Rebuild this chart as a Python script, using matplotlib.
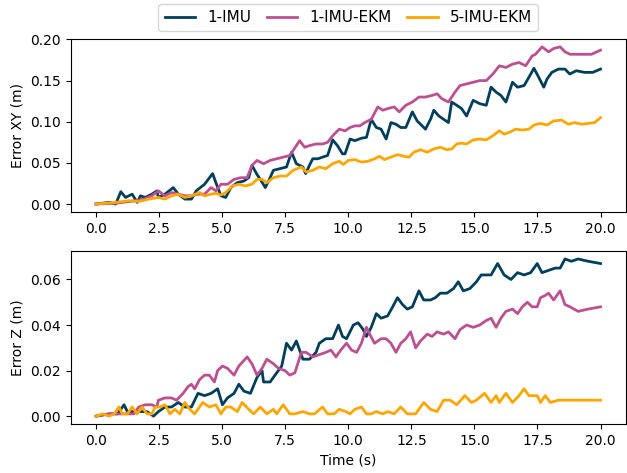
import matplotlib
matplotlib.use("Agg")
import matplotlib.pyplot as plt
import numpy as np

# colours
c_imu = "#003f5c"
c_ekm = "#bc5090"
c_5ekm = "#ffa600"

# --- top panel: horizontal error (m) ---
t_xy_imu = [0, 0.52, 0.78, 0.98, 1.17, 1.43, 1.63, 1.76, 1.95, 2.21, 2.41, 2.47, 2.73, 3.06, 3.26,
            3.52, 3.78, 3.97, 4.30, 4.62, 4.75, 4.95, 5.14, 5.34, 5.60, 5.86, 6.05, 6.18, 6.38,
            6.51, 6.71, 6.90, 7.03, 7.29, 7.55, 7.75, 7.94, 8.20, 8.31, 8.46, 8.59, 8.79, 8.98,
            9.18, 9.38, 9.57, 9.77, 9.87, 10.07, 10.26, 10.52, 10.72, 10.91, 11.11, 11.30, 11.50,
            11.69, 11.89, 12.08, 12.28, 12.54, 12.73, 12.93, 13.06, 13.26, 13.39, 13.59, 13.78,
            13.97, 14.10, 14.30, 14.49, 14.69, 14.95, 15.21, 15.47, 15.66, 15.86, 16.05, 16.25,
            16.51, 16.71, 16.97, 17.16, 17.36, 17.55, 17.75, 17.88, 18.07, 18.33, 18.59, 18.78,
            19.04, 19.36, 19.69, 20.0]
xy_imu = [0, 0.002, 0.000, 0.015, 0.008, 0.012, 0.002, 0.010, 0.008, 0.012, 0.016, 0.008, 0.012,
          0.020, 0.012, 0.006, 0.006, 0.016, 0.024, 0.037, 0.026, 0.010, 0.008, 0.020, 0.026,
          0.028, 0.032, 0.047, 0.036, 0.030, 0.020, 0.032, 0.041, 0.043, 0.045, 0.063, 0.049,
          0.045, 0.037, 0.047, 0.055, 0.055, 0.057, 0.059, 0.078, 0.071, 0.061, 0.061, 0.079,
          0.077, 0.080, 0.081, 0.103, 0.093, 0.091, 0.079, 0.099, 0.097, 0.093, 0.093, 0.112,
          0.101, 0.095, 0.091, 0.103, 0.114, 0.107, 0.103, 0.099, 0.124, 0.120, 0.116, 0.107,
          0.126, 0.122, 0.120, 0.142, 0.136, 0.132, 0.124, 0.148, 0.142, 0.144, 0.154, 0.165,
          0.154, 0.142, 0.152, 0.160, 0.164, 0.164, 0.158, 0.162, 0.160, 0.160, 0.164]

t_xy_ekm = [0, 0.78, 1.56, 1.89, 2.21, 2.47, 2.73, 2.99, 3.26, 3.52, 3.78, 4.04, 4.30, 4.56, 4.75,
            4.95, 5.21, 5.47, 5.73, 5.99, 6.18, 6.38, 6.64, 6.90, 7.16, 7.42, 7.68, 8.07, 8.27,
            8.46, 8.72, 8.98, 9.18, 9.38, 9.64, 9.87, 10.07, 10.26, 10.46, 10.65, 10.91, 11.17,
            11.37, 11.56, 11.82, 12.02, 12.28, 12.54, 12.80, 13.06, 13.32, 13.52, 13.71, 13.97,
            14.23, 14.43, 14.69, 14.95, 15.21, 15.47, 15.73, 15.99, 16.25, 16.51, 16.77, 17.03,
            17.29, 17.42, 17.68, 17.94, 18.14, 18.40, 18.59, 18.79, 19.05, 19.38, 19.64, 20.0]
xy_ekm = [0, 0.001, 0.004, 0.006, 0.010, 0.016, 0.010, 0.014, 0.012, 0.010, 0.010, 0.012, 0.012,
          0.020, 0.016, 0.024, 0.024, 0.030, 0.032, 0.032, 0.047, 0.053, 0.049, 0.053, 0.055,
          0.057, 0.059, 0.077, 0.069, 0.071, 0.073, 0.073, 0.075, 0.083, 0.091, 0.089, 0.093,
          0.095, 0.095, 0.099, 0.103, 0.118, 0.114, 0.116, 0.118, 0.112, 0.120, 0.124, 0.130,
          0.130, 0.132, 0.134, 0.128, 0.124, 0.136, 0.144, 0.146, 0.148, 0.150, 0.150, 0.158,
          0.168, 0.166, 0.170, 0.172, 0.168, 0.180, 0.182, 0.191, 0.185, 0.189, 0.191, 0.185,
          0.182, 0.182, 0.182, 0.182, 0.187]

t_xy_5ekm = [0, 0.78, 1.30, 1.69, 2.08, 2.47, 2.73, 2.99, 3.26, 3.52, 3.78, 4.10, 4.30, 4.56,
             4.75, 4.95, 5.14, 5.40, 5.66, 5.92, 6.18, 6.38, 6.58, 6.77, 7.03, 7.29, 7.55, 7.81,
             8.14, 8.33, 8.59, 8.85, 9.11, 9.38, 9.64, 9.80, 10.0, 10.26, 10.52, 10.78, 11.04,
             11.24, 11.43, 11.69, 11.95, 12.21, 12.41, 12.60, 12.86, 13.13, 13.39, 13.65, 13.91,
             14.10, 14.30, 14.49, 14.69, 14.95, 15.21, 15.47, 15.73, 15.99, 16.18, 16.38, 16.64,
             16.90, 17.16, 17.36, 17.62, 17.88, 18.14, 18.46, 18.72, 18.98, 19.24, 19.51, 19.77,
             20.0]
xy_5ekm = [0, 0.002, 0.004, 0.003, 0.006, 0.008, 0.006, 0.010, 0.012, 0.008, 0.010, 0.014, 0.010,
           0.012, 0.013, 0.011, 0.014, 0.022, 0.024, 0.022, 0.024, 0.030, 0.030, 0.026, 0.032,
           0.034, 0.034, 0.041, 0.045, 0.039, 0.041, 0.045, 0.043, 0.049, 0.052, 0.048, 0.053,
           0.054, 0.051, 0.052, 0.055, 0.058, 0.054, 0.057, 0.060, 0.058, 0.057, 0.063, 0.066,
           0.063, 0.067, 0.069, 0.066, 0.067, 0.073, 0.074, 0.073, 0.078, 0.079, 0.078, 0.083,
           0.089, 0.085, 0.087, 0.091, 0.090, 0.091, 0.096, 0.098, 0.096, 0.101, 0.102, 0.097,
           0.099, 0.097, 0.098, 0.099, 0.105]

# --- bottom panel: vertical error (m) ---
t_z_imu = [0, 0.52, 0.85, 1.11, 1.24, 1.50, 1.76, 2.02, 2.28, 2.47, 2.73, 2.99, 3.26, 3.52, 3.78,
           4.04, 4.30, 4.56, 4.82, 5.01, 5.21, 5.47, 5.66, 5.86, 6.12, 6.38, 6.58, 6.64, 6.90,
           7.16, 7.36, 7.55, 7.75, 7.94, 8.20, 8.46, 8.72, 8.85, 9.11, 9.38, 9.61, 9.77, 9.93,
           10.20, 10.39, 10.59, 10.72, 10.91, 11.11, 11.30, 11.56, 11.76, 11.95, 12.15, 12.34,
           12.54, 12.80, 12.99, 13.26, 13.45, 13.65, 13.91, 14.17, 14.36, 14.56, 14.82, 15.08,
           15.27, 15.47, 15.66, 15.92, 16.18, 16.45, 16.71, 16.97, 17.23, 17.49, 17.68, 17.94,
           18.20, 18.40, 18.59, 18.85, 19.11, 19.51, 20.0]
z_imu = [0, 0.001, 0.001, 0.005, 0.002, 0.002, 0.002, 0.002, 0.000, 0.002, 0.004, 0.004, 0.006,
         0.004, 0.004, 0.010, 0.009, 0.010, 0.012, 0.005, 0.008, 0.010, 0.014, 0.011, 0.010,
         0.017, 0.020, 0.015, 0.015, 0.019, 0.022, 0.032, 0.029, 0.033, 0.025, 0.025, 0.028,
         0.032, 0.034, 0.034, 0.040, 0.035, 0.034, 0.040, 0.041, 0.038, 0.035, 0.039, 0.045,
         0.043, 0.044, 0.048, 0.052, 0.049, 0.047, 0.048, 0.055, 0.051, 0.051, 0.052, 0.054,
         0.054, 0.056, 0.059, 0.055, 0.056, 0.059, 0.062, 0.062, 0.062, 0.067, 0.062, 0.060,
         0.063, 0.062, 0.063, 0.067, 0.063, 0.064, 0.065, 0.065, 0.069, 0.068, 0.069, 0.068,
         0.067]

t_z_ekm = [0, 0.52, 0.91, 1.17, 1.50, 1.69, 1.95, 2.21, 2.41, 2.47, 2.73, 2.99, 3.19, 3.45, 3.65,
           3.78, 3.91, 4.10, 4.30, 4.49, 4.69, 4.82, 5.01, 5.21, 5.47, 5.66, 5.99, 6.18, 6.38,
           6.58, 6.77, 7.03, 7.23, 7.49, 7.68, 7.88, 8.14, 8.33, 8.59, 8.85, 9.11, 9.31, 9.51,
           9.70, 9.93, 10.13, 10.33, 10.52, 10.72, 10.85, 11.04, 11.30, 11.50, 11.69, 11.89,
           12.08, 12.28, 12.47, 12.67, 12.86, 13.13, 13.32, 13.52, 13.78, 13.97, 14.23, 14.43,
           14.69, 14.95, 15.21, 15.47, 15.66, 15.86, 16.05, 16.25, 16.51, 16.71, 16.90, 17.10,
           17.29, 17.49, 17.62, 17.81, 17.94, 18.14, 18.40, 18.59, 18.79, 19.11, 19.51, 20.0]
z_ekm = [0, 0.001, 0.001, 0.001, 0.001, 0.004, 0.005, 0.005, 0.004, 0.007, 0.008, 0.008, 0.007,
         0.010, 0.013, 0.014, 0.012, 0.016, 0.018, 0.018, 0.015, 0.020, 0.022, 0.021, 0.018,
         0.022, 0.026, 0.023, 0.018, 0.021, 0.025, 0.023, 0.021, 0.020, 0.018, 0.019, 0.028,
         0.028, 0.026, 0.027, 0.028, 0.029, 0.026, 0.029, 0.032, 0.029, 0.028, 0.032, 0.039,
         0.036, 0.032, 0.034, 0.034, 0.032, 0.028, 0.032, 0.034, 0.037, 0.030, 0.033, 0.036,
         0.035, 0.037, 0.036, 0.037, 0.034, 0.038, 0.040, 0.039, 0.040, 0.042, 0.043, 0.039,
         0.043, 0.046, 0.047, 0.045, 0.048, 0.050, 0.048, 0.048, 0.052, 0.053, 0.054, 0.051,
         0.055, 0.049, 0.048, 0.046, 0.047, 0.048]

t_z_5ekm = [0, 0.26, 0.52, 0.72, 0.91, 1.04, 1.24, 1.43, 1.63, 1.82, 2.02, 2.21, 2.34, 2.54, 2.73,
            2.93, 3.12, 3.32, 3.52, 3.71, 3.91, 4.23, 4.49, 4.75, 4.95, 5.14, 5.34, 5.60, 5.79,
            6.05, 6.25, 6.51, 6.77, 7.03, 7.16, 7.42, 7.68, 7.88, 8.20, 8.46, 8.66, 8.98, 9.18,
            9.44, 9.64, 9.90, 10.07, 10.26, 10.52, 10.72, 10.91, 11.11, 11.37, 11.56, 11.82,
            12.08, 12.34, 12.67, 12.99, 13.26, 13.52, 13.78, 14.04, 14.30, 14.62, 14.88, 15.08,
            15.40, 15.66, 15.86, 15.99, 16.25, 16.51, 16.77, 16.97, 17.16, 17.49, 17.62, 17.81,
            18.01, 18.33, 18.59, 18.85, 19.11, 19.51, 20.0]
z_5ekm = [0, 0.001, 0.000, 0.001, 0.004, 0.001, 0.001, 0.004, 0.001, 0.004, 0.001, 0.001, 0.004,
          0.004, 0.005, 0.001, 0.003, 0.001, 0.006, 0.003, 0.001, 0.006, 0.004, 0.005, 0.001,
          0.004, 0.004, 0.002, 0.006, 0.003, 0.001, 0.004, 0.001, 0.003, 0.001, 0.005, 0.001,
          0.001, 0.002, 0.001, 0.001, 0.004, 0.001, 0.001, 0.003, 0.002, 0.001, 0.003, 0.004,
          0.001, 0.001, 0.002, 0.001, 0.002, 0.001, 0.004, 0.001, 0.001, 0.006, 0.003, 0.002,
          0.007, 0.007, 0.005, 0.009, 0.006, 0.007, 0.010, 0.006, 0.009, 0.006, 0.010, 0.006,
          0.009, 0.012, 0.009, 0.009, 0.006, 0.009, 0.006, 0.007, 0.007, 0.007, 0.007, 0.007,
          0.007]

labels = ["1-IMU", "1-IMU-EKM", "5-IMU-EKM"]

fig, (ax1, ax2) = plt.subplots(2, 1, figsize=(6.27, 4.73), dpi=100)
fig.subplots_adjust(left=0.113, right=0.998, top=0.9175, bottom=0.1036, hspace=0.227)

lw = 2
ax1.plot(t_xy_imu, xy_imu, color=c_imu, lw=lw, label=labels[0])
ax1.plot(t_xy_ekm, xy_ekm, color=c_ekm, lw=lw, label=labels[1])
ax1.plot(t_xy_5ekm, xy_5ekm, color=c_5ekm, lw=lw, label=labels[2])
ax1.set_ylabel("Error XY (m)")
ax1.set_xticks(np.arange(0, 20.1, 2.5))

ax2.plot(t_z_imu, z_imu, color=c_imu, lw=lw)
ax2.plot(t_z_ekm, z_ekm, color=c_ekm, lw=lw)
ax2.plot(t_z_5ekm, z_5ekm, color=c_5ekm, lw=lw)
ax2.set_ylabel("Error Z (m)")
ax2.set_xlabel("Time (s)")
ax2.set_xticks(np.arange(0, 20.1, 2.5))

# legend sits above the top panel, centred on the axes
ax1.legend(loc="lower center", ncol=3, fontsize=11, columnspacing=1.0,
           bbox_to_anchor=(0.5, 1.0))

plt.savefig("out.png", dpi=100)
